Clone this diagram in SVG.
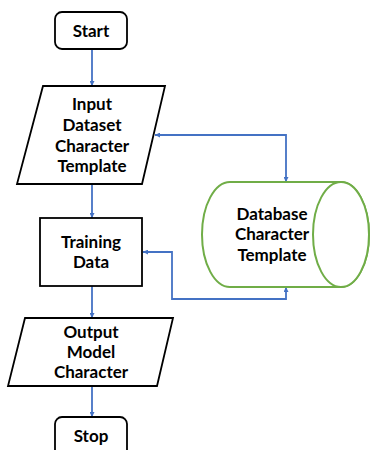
<svg xmlns="http://www.w3.org/2000/svg" width="372" height="450" viewBox="0 0 372 450">
  <defs>
    <marker id="arrow" viewBox="0 0 10 10" refX="10" refY="5" markerWidth="5" markerHeight="5" orient="auto-start-reverse" markerUnits="userSpaceOnUse">
      <path d="M0,0 L10,5 L0,10 z" fill="#4472C4"/>
    </marker>
    <style>
      .shape { fill: #ffffff; stroke: #000000; stroke-width: 1.8; }
      .db { fill: #ffffff; stroke: #70AD47; stroke-width: 2; }
      .label { font-family: Lato, "Liberation Sans", sans-serif; font-weight: bold; font-size: 17px; fill: #000000; text-anchor: middle; }
      .flow { fill: none; stroke: #4472C4; stroke-width: 1.8; }
    </style>
  </defs>
  <rect width="372" height="450" fill="#ffffff"/>

  <g id="connectors">
    <line class="flow" x1="92" y1="49" x2="92" y2="86" marker-end="url(#arrow)"/>
    <line class="flow" x1="92" y1="184" x2="92" y2="218" marker-end="url(#arrow)"/>
    <line class="flow" x1="92" y1="286" x2="92" y2="318" marker-end="url(#arrow)"/>
    <line class="flow" x1="92" y1="386" x2="92" y2="417" marker-end="url(#arrow)"/>
    <polyline class="flow" points="155,135 286,135 286,182" marker-start="url(#arrow)" marker-end="url(#arrow)"/>
    <polyline class="flow" points="286,287 286,299 172,299 172,252 143,252" marker-start="url(#arrow)" marker-end="url(#arrow)"/>
  </g>

  <g id="start">
    <rect class="shape" x="55" y="12" width="72" height="37" rx="7"/>
    <text class="label" x="91" y="37">Start</text>
  </g>

  <g id="input">
    <polygon class="shape" points="43,86 165,86 142,184 17,184"/>
    <text class="label" x="92" y="110">Input</text>
    <text class="label" x="92" y="131">Dataset</text>
    <text class="label" x="92" y="152">Character</text>
    <text class="label" x="92" y="172">Template</text>
  </g>

  <g id="database">
    <path class="db" d="M230,182 L341,182 A28,52.5 0 0 1 341,287 L230,287 A28,52.5 0 0 1 230,182 Z"/>
    <ellipse class="db" cx="341" cy="234.5" rx="28" ry="52.5"/>
    <text class="label" x="272" y="220">Database</text>
    <text class="label" x="272" y="240">Character</text>
    <text class="label" x="272" y="261">Template</text>
  </g>

  <g id="training">
    <rect class="shape" x="40" y="218" width="102" height="68"/>
    <text class="label" x="91" y="248">Training</text>
    <text class="label" x="91" y="268">Data</text>
  </g>

  <g id="output">
    <polygon class="shape" points="25,318 173,318 157,386 8,386"/>
    <text class="label" x="91" y="338">Output</text>
    <text class="label" x="91" y="358">Model</text>
    <text class="label" x="91" y="378">Character</text>
  </g>

  <g id="stop">
    <rect class="shape" x="55" y="417" width="72" height="45" rx="7"/>
    <text class="label" x="91" y="442">Stop</text>
  </g>
</svg>
